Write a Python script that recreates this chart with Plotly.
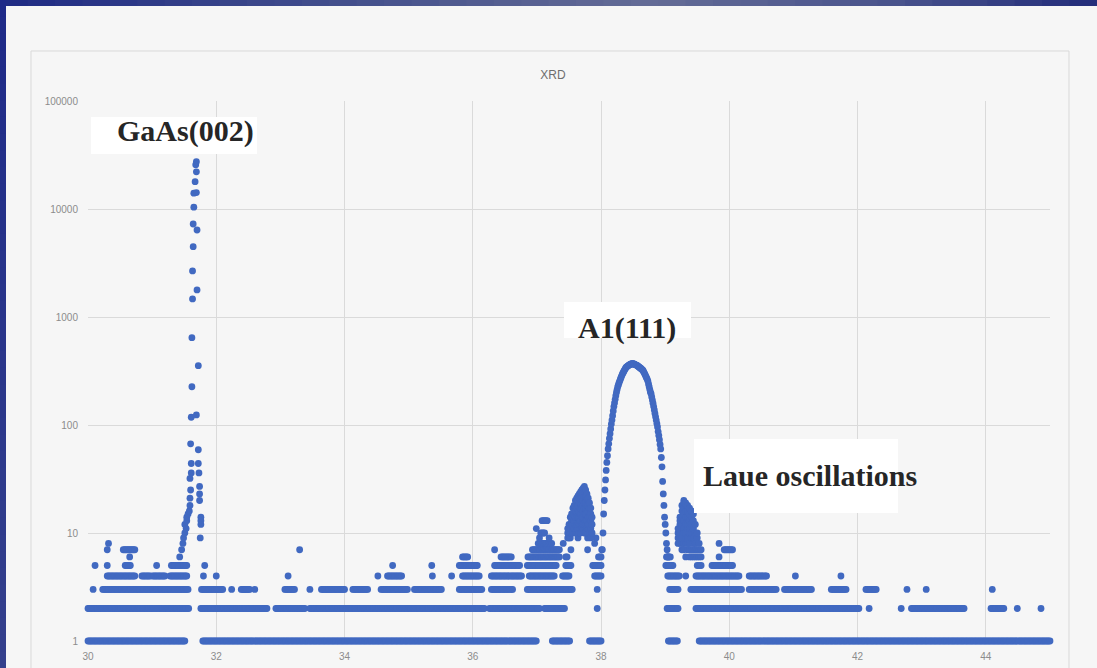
import numpy as np
import plotly.graph_objects as go

# ---------------- data ----------------
SCAN_STEP = 0.02  # 2-theta step of the scan (deg)

# runs of points sitting on each integer count level: (start 2theta, end 2theta)
level1_runs = [(30.00, 31.51), (31.79, 36.99), (37.24, 37.51), (37.82, 38.00),
               (39.05, 39.19), (39.53, 45.00)]
level2_runs = [(30.00, 31.57), (31.76, 32.79), (32.93, 33.38), (33.46, 36.18),
               (36.26, 37.04), (37.12, 37.43), (37.94, 37.94), (39.03, 39.20),
               (39.48, 42.02), (42.18, 42.18), (42.68, 42.68), (42.84, 43.66),
               (44.08, 44.28), (44.49, 44.49), (44.86, 44.86)]
level3_runs = [(30.08, 30.08), (30.23, 31.56), (31.77, 32.10), (32.24, 32.24),
               (32.39, 32.52), (32.60, 32.60), (33.07, 33.22), (33.46, 33.46),
               (33.64, 34.00), (34.13, 34.36), (34.57, 34.98), (35.09, 35.51),
               (35.79, 36.14), (36.29, 36.62), (36.85, 37.55), (37.94, 37.94),
               (39.07, 39.20), (39.40, 40.19), (40.31, 40.73), (40.86, 41.28),
               (41.59, 41.82), (42.13, 42.29), (42.77, 42.77), (43.07, 43.07),
               (44.10, 44.10)]
level4_runs = [(30.30, 30.73), (30.84, 30.97), (31.01, 31.20), (31.28, 31.54),
               (31.80, 31.80), (32.00, 32.00), (33.12, 33.12), (34.52, 34.52),
               (34.67, 34.89), (35.37, 35.37), (35.67, 35.67), (35.84, 36.10),
               (36.29, 36.76), (36.88, 37.27), (37.40, 37.50), (37.90, 38.00),
               (39.04, 39.22), (39.32, 39.32), (39.48, 40.15), (40.31, 40.58),
               (41.03, 41.03), (41.74, 41.74)]
level5_runs = [(30.11, 30.11), (30.30, 30.30), (30.58, 30.66), (31.07, 31.07),
               (31.30, 31.54), (31.82, 31.82), (34.75, 34.75), (35.36, 35.36),
               (35.79, 36.07), (36.34, 36.73), (36.85, 37.30), (37.45, 37.53),
               (37.87, 38.00), (39.01, 39.12), (39.73, 40.05)]
level6_runs = [(30.65, 30.65), (35.84, 35.92), (36.44, 36.60), (36.86, 37.35),
               (37.45, 37.47), (37.96, 38.00), (39.02, 39.08), (39.84, 39.84)]
level7_runs = [(30.30, 30.30), (30.55, 30.73), (33.30, 33.30), (36.34, 36.34),
               (36.93, 37.35), (37.53, 37.53), (37.79, 37.79), (38.01, 38.01),
               (39.92, 40.05)]
level8_runs = [(30.32, 30.32), (37.02, 37.23), (37.41, 37.41), (37.90, 37.90),
               (39.84, 39.84)]
level9_runs = [(37.04, 37.04), (37.19, 37.19), (37.79, 37.79), (37.92, 37.92)]
level10_runs = [(37.06, 37.12)]
level11_runs = [(36.99, 36.99)]
level13_runs = [(37.08, 37.16)]

# GaAs(002) substrate peak
gaas_x = [31.43, 31.46, 31.48, 31.49, 31.51, 31.51, 31.53, 31.54, 31.54, 31.56,
          31.58, 31.59, 31.59, 31.59, 31.60, 31.61, 31.61, 31.60, 31.61, 31.62,
          31.62, 31.63, 31.63, 31.64, 31.64, 31.65, 31.65, 31.67, 31.68, 31.69,
          31.69, 31.69, 31.70, 31.70, 31.72, 31.69, 31.72, 31.72, 31.73, 31.74,
          31.74, 31.74, 31.76, 31.76, 31.76, 31.75]
gaas_y = [6, 7, 8, 9, 10, 12, 11, 13, 14, 15,
          16, 18, 21, 32, 25, 36, 44, 67, 118, 226,
          643, 1470, 2670, 4480, 7260, 10400, 14000, 17900, 25700, 27400,
          22100, 14200, 6390, 1780, 354, 124, 59, 44, 36, 27,
          23, 20, 14, 13, 12, 9]

# A1(111) film peak
film_x = [38.02, 38.03, 38.04, 38.05, 38.06, 38.07, 38.08, 38.09, 38.10, 38.11,
          38.12, 38.13, 38.14, 38.15, 38.16, 38.17, 38.18, 38.19, 38.20, 38.21,
          38.22, 38.23, 38.24, 38.25, 38.26, 38.27, 38.28, 38.29, 38.30, 38.31,
          38.32, 38.33, 38.34, 38.35, 38.36, 38.37, 38.38, 38.39, 38.40, 38.41,
          38.42, 38.43, 38.44, 38.45, 38.46, 38.47, 38.48, 38.49, 38.50, 38.51,
          38.52, 38.53, 38.54, 38.55, 38.56, 38.57, 38.58, 38.59, 38.60, 38.61,
          38.62, 38.63, 38.64, 38.65, 38.66, 38.67, 38.68, 38.69, 38.70, 38.71,
          38.72, 38.73, 38.74, 38.75, 38.76, 38.77, 38.78, 38.79, 38.80, 38.81,
          38.82, 38.83, 38.84, 38.85, 38.86, 38.87, 38.88, 38.89, 38.90, 38.91,
          38.92, 38.93, 38.94, 38.95, 38.96, 38.97, 38.98, 38.99, 39.00, 39.01,
          39.02, 39.03, 39.04, 39.05, 39.06]
film_y = [7, 10, 15, 20, 25, 31, 38, 45, 52, 60,
          67, 75, 83, 92, 102, 111, 122, 135, 148, 160,
          173, 187, 200, 213, 226, 235, 245, 255, 264, 274,
          284, 294, 302, 310, 318, 326, 334, 341, 346, 349,
          353, 357, 360, 362, 365, 367, 369, 370, 369, 367,
          365, 363, 361, 359, 356, 352, 348, 345, 341, 338,
          334, 330, 326, 322, 315, 306, 298, 290, 281, 273,
          265, 255, 240, 226, 213, 201, 195, 182, 170, 159,
          148, 138, 128, 119, 111, 103, 96, 87, 80, 73,
          66, 60, 50, 41, 30, 23, 18, 14, 12, 10,
          8, 7, 6, 6, 5]

# Laue fringe clusters (several counts per 2theta position)
laue_left_x = [37.48, 37.50, 37.52, 37.54, 37.56, 37.58, 37.60, 37.62, 37.64, 37.66,
               37.68, 37.70, 37.72, 37.74, 37.76, 37.78, 37.80, 37.82, 37.84, 37.86]
laue_left_y = [[9, 10, 11], [9, 10, 12], [9, 10, 11, 12, 14], [10, 12, 13, 15],
               [10, 11, 12, 14, 15, 17], [11, 13, 15, 16, 18],
               [10, 11, 13, 14, 16, 18, 20], [11, 12, 14, 17, 19, 21],
               [9, 11, 12, 14, 16, 18, 20, 22], [10, 12, 14, 16, 19, 21, 23],
               [10, 11, 13, 15, 17, 19, 21, 24], [11, 12, 14, 17, 20, 22, 25],
               [11, 12, 14, 16, 18, 20, 23, 26], [10, 12, 15, 17, 19, 22, 24, 27],
               [10, 12, 13, 15, 17, 19, 22, 25], [11, 13, 16, 18, 21, 23],
               [11, 12, 14, 16, 18, 21], [10, 12, 14, 17, 19], [9, 11, 13, 15, 17],
               [10, 12, 14]]
laue_right_x = [39.20, 39.23, 39.26, 39.29, 39.32, 39.35, 39.38, 39.41, 39.44,
                39.47, 39.50, 39.53, 39.56]
laue_right_y = [[8, 9, 10, 11], [8, 9, 10, 12, 13, 14], [7, 8, 9, 11, 12, 14, 16, 18],
                [7, 8, 10, 11, 13, 15, 17, 19, 20], [6, 8, 9, 10, 12, 14, 16, 18, 19],
                [7, 8, 9, 11, 12, 14, 16, 18], [6, 7, 8, 10, 11, 13, 15, 17],
                [6, 7, 9, 10, 12, 14, 16], [6, 7, 8, 9, 11, 13, 15],
                [6, 7, 8, 10, 12], [5, 6, 7, 9, 10], [5, 6, 7, 8], [5, 6, 7]]

x_tick_vals = [30, 32, 34, 36, 38, 40, 42, 44]
y_tick_vals = [1, 10, 100, 1000, 10000, 100000]
y_tick_text = ["1", "10", "100", "1000", "10000", "100000"]

# ---------------- build point lists ----------------
level_runs = [(1, level1_runs), (2, level2_runs), (3, level3_runs), (4, level4_runs),
              (5, level5_runs), (6, level6_runs), (7, level7_runs), (8, level8_runs),
              (9, level9_runs), (10, level10_runs), (11, level11_runs), (13, level13_runs)]
xs, ys = [], []
for lvl, runs in level_runs:
    for a, b in runs:
        n = int(round((b - a) / SCAN_STEP))
        pts = np.linspace(a, b, n + 1) if n > 0 else [a]
        xs.extend(pts)
        ys.extend([lvl] * len(pts))
for cx, cy in [(laue_left_x, laue_left_y), (laue_right_x, laue_right_y)]:
    for x0, vals in zip(cx, cy):
        xs.extend([x0] * len(vals))
        ys.extend(vals)
xs += gaas_x + film_x
ys += gaas_y + film_y

# ---------------- figure ----------------
W, H = 1097, 668
PL, PR, PT, PB = 88, 1050, 101, 641  # plot area pixels


def px(p):
    return (p - PL) / (PR - PL)


def py(p):
    return (PB - p) / (PB - PT)


BG = "#f6f6f6"
fig = go.Figure()
fig.add_trace(go.Scatter(x=xs, y=ys, mode="markers", cliponaxis=False,
                         marker=dict(size=6.8, color="#4169c1", line=dict(width=0)),
                         showlegend=False, hoverinfo="x+y"))

shapes = []


def lerp(c1, c2, t):
    return tuple(int(round(a + (b - a) * t)) for a, b in zip(c1, c2))


# slide frame gradient (top and left bars)
top_stops = [(0, (31, 43, 132)), (350, (68, 80, 140)), (650, (100, 108, 150)),
             (900, (72, 82, 140)), (1097, (34, 44, 122))]
N = 40
for i in range(N):
    xa, xb = W * i / N, W * (i + 1) / N
    xm = (xa + xb) / 2
    col = top_stops[0][1]
    for (p0, c0), (p1, c1) in zip(top_stops[:-1], top_stops[1:]):
        if p0 <= xm <= p1:
            col = lerp(c0, c1, (xm - p0) / (p1 - p0))
    shapes.append(dict(type="rect", xref="paper", yref="paper", layer="above",
                       x0=px(xa), x1=px(xb + 1), y0=py(6), y1=py(0),
                       fillcolor="rgb(%d,%d,%d)" % col, line=dict(width=0)))
for i in range(N):
    ya, yb = H * i / N, H * (i + 1) / N
    col = lerp((30, 42, 136), (52, 64, 140), (ya + yb) / 2 / H)
    shapes.append(dict(type="rect", xref="paper", yref="paper", layer="above",
                       x0=px(0), x1=px(6), y0=py(yb + 1), y1=py(ya),
                       fillcolor="rgb(%d,%d,%d)" % col, line=dict(width=0)))
# chart border
shapes.append(dict(type="rect", xref="paper", yref="paper", layer="below",
                   x0=px(31), x1=px(1069), y0=py(700), y1=py(51),
                   line=dict(color="#d9d9d9", width=1), fillcolor="rgba(0,0,0,0)"))
# white label boxes
for (x0, x1, y0, y1) in [(91, 257, 117, 154), (564, 691, 302, 338), (694, 898, 439, 513)]:
    shapes.append(dict(type="rect", xref="paper", yref="paper", layer="above",
                       x0=px(x0), x1=px(x1), y0=py(y1), y1=py(y0),
                       fillcolor="white", line=dict(width=0)))

label_font = dict(family="Liberation Serif, Times New Roman, serif", size=30,
                  color="#262626", weight="bold")
annotations = [
    dict(text="GaAs(002)", x=px(185), y=py(131)),
    dict(text="A1(111)", x=px(627), y=py(328)),
    dict(text="Laue oscillations", x=px(810), y=py(475)),
]
for a in annotations:
    a.update(xref="paper", yref="paper", xanchor="center", yanchor="middle",
             showarrow=False, font=label_font)

tick_font = dict(family="Liberation Sans, Arial, sans-serif", size=10, color="#8c8c8c")
fig.update_layout(
    width=W, height=H,
    margin=dict(l=PL, r=W - PR, t=PT, b=H - PB, pad=0, autoexpand=False),
    paper_bgcolor=BG, plot_bgcolor=BG,
    title=dict(text="XRD", x=553 / W, xref="container", xanchor="center",
               y=1 - 75 / H, yref="container", yanchor="middle",
               font=dict(family="Liberation Sans, Arial, sans-serif", size=12, color="#6e6e6e")),
    shapes=shapes, annotations=annotations,
    xaxis=dict(range=[30, 45], tickvals=x_tick_vals, showgrid=True, gridcolor="#dadada",
               gridwidth=1, zeroline=False, showline=False, ticks="outside", ticklen=6,
               tickcolor="rgba(0,0,0,0)", automargin=False, tickfont=tick_font),
    yaxis=dict(type="log", range=[0, 5], tickvals=y_tick_vals, ticktext=y_tick_text,
               showgrid=True, gridcolor="#dadada", gridwidth=1, zeroline=False, showline=False,
               ticks="outside", ticklen=7, tickcolor="rgba(0,0,0,0)", automargin=False,
               tickfont=tick_font),
)

fig.write_html("out.html", config={"displayModeBar": False},
               post_script="document.body.style.margin='0';document.body.style.overflow='hidden';")
